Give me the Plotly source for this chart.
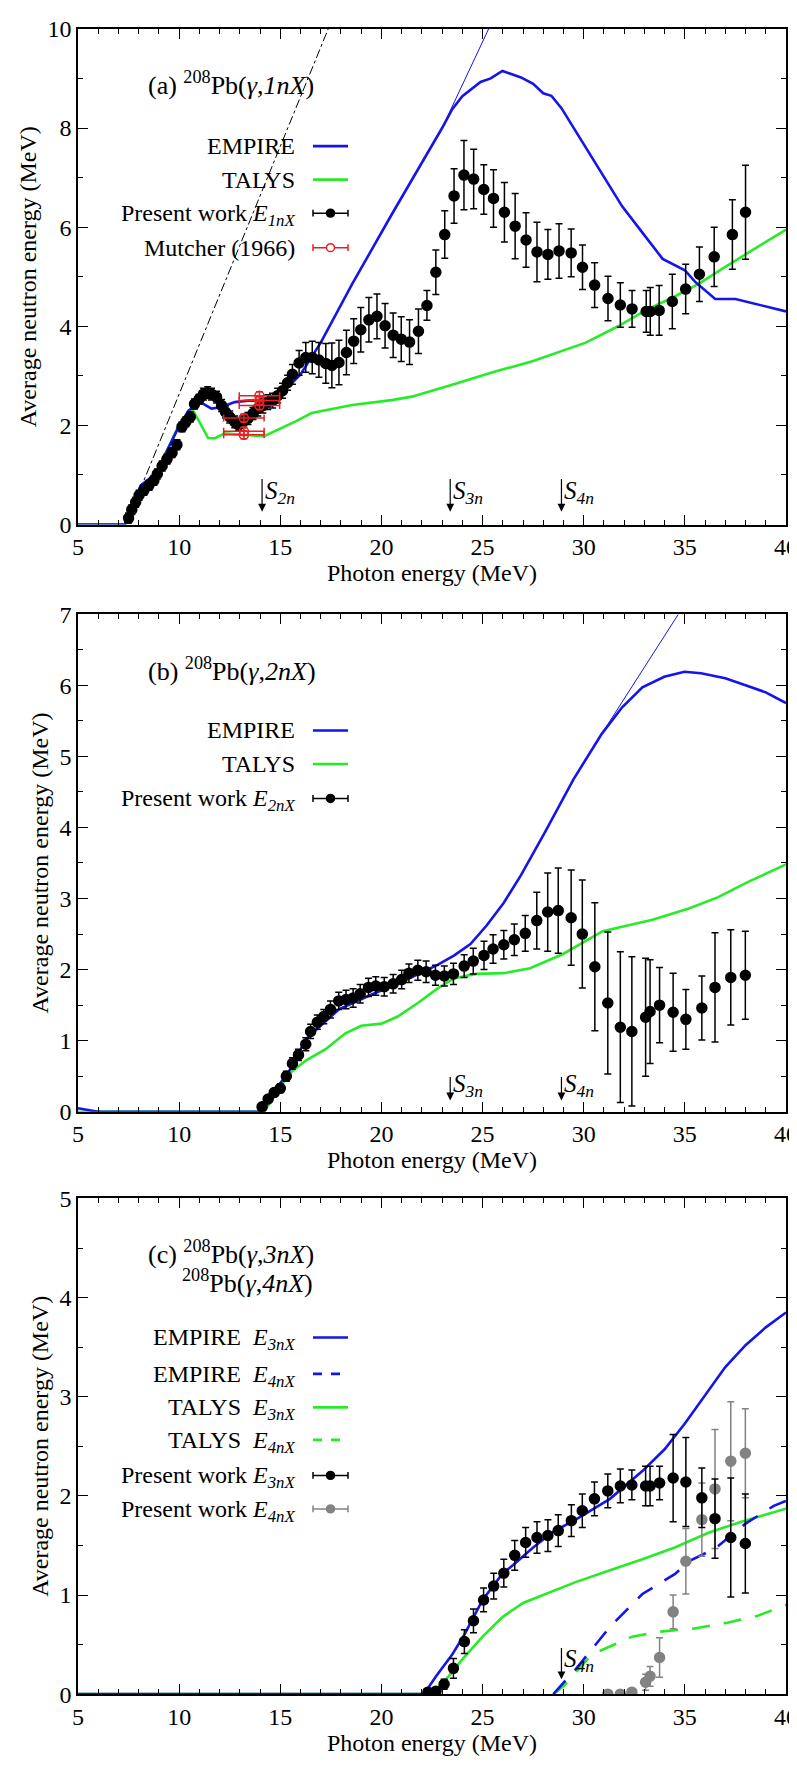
import plotly.graph_objects as go

# ---------------- Panel (a) data ----------------
a_E = [7.50,7.66,7.85,8.02,8.26,8.51,8.75,8.92,9.16,9.40,9.65,9.89,10.14,10.33,10.55,10.76,10.99,11.2,11.41,11.6,11.85,12.1,12.29,12.5,12.75,12.94,13.16,13.4,13.65,13.89,14.14,14.38,14.62,14.87,15.11,15.36,15.6,15.93,16.26,16.58,16.91,
       17.25,17.55,17.9,18.27,18.63,18.98,19.38,19.78,20.18,20.58,20.98,21.39,21.83,22.25,22.69,23.13,23.59,24.08,24.56,25.06,25.54,26.08,26.61,27.15,27.69,28.23,28.78,29.38,29.94,30.54,31.2,31.81,32.39,33.09,33.29,33.73,34.38,35.04,35.72,36.45,37.35,38.0]
a_V = [0.13,0.30,0.45,0.59,0.69,0.79,0.89,1.02,1.18,1.32,1.45,1.61,1.97,2.07,2.17,2.43,2.53,2.63,2.66,2.63,2.57,2.40,2.27,2.17,2.07,2.01,2.07,2.14,2.24,2.34,2.40,2.47,2.50,2.60,2.70,2.86,3.03,3.26,3.37,3.37,3.32,
       3.25,3.21,3.27,3.47,3.70,3.93,4.13,4.20,4.01,3.82,3.74,3.68,3.90,4.42,5.09,5.85,6.63,7.05,6.97,6.76,6.58,6.30,6.02,5.74,5.50,5.45,5.52,5.48,5.19,4.83,4.56,4.43,4.35,4.30,4.30,4.32,4.50,4.75,5.05,5.40,5.85,6.30]
a_err = [0.1]*17 + [0.12]*12 + [0.15]*7 + [0.2,0.25,0.3,0.33,0.35,
         0.4,0.45,0.45,0.45,0.45,0.45,0.45,0.45,0.45,0.45,0.45,0.45,0.45,0.3,0.45,0.48,0.55,0.7,0.6,0.5,0.58,0.6,0.66,0.55,0.6,0.5,0.55,0.48,0.45,0.45,0.45,0.45,0.37,0.42,0.48,0.5,0.55,0.5,0.55,0.6,0.7,0.95]

mut_E = [13.97,13.97,13.97,13.2,13.2,13.2]
mut_V = [2.60,2.50,2.40,2.15,1.88,1.81]
mut_xerr = [1.0,1.0,1.0,1.0,1.0,1.0]
mut_yerr = [0.08,0.08,0.08,0.08,0.08,0.08]

a_emp_E = [5,7.3,8.1,8.83,9.98,10.46,11.04,11.6,12.1,12.75,13.4,14.38,15.03,16.0,17.0,18.55,20.5,22.0,23.0,23.5,24.0,24.9,25.4,25.98,26.9,27.5,28.0,28.4,28.9,29.9,30.9,31.9,32.9,33.9,35.0,35.5,36.5,37.5,40]
a_emp_V = [0,0,0.79,1.02,1.97,2.30,2.47,2.34,2.37,2.47,2.50,2.50,2.63,3.03,3.67,4.85,6.25,7.3,8.0,8.38,8.64,8.93,9.0,9.15,9.02,8.89,8.70,8.65,8.40,7.74,7.08,6.42,5.89,5.36,5.13,4.9,4.55,4.55,4.3]
a_thin_E = [23.0,25.3]
a_thin_V = [8.0,10.0]
a_tal_E = [5,7.37,8.1,8.83,9.98,10.63,11.04,11.44,11.77,12.26,14.2,15.03,15.76,16.55,18.55,20.5,21.5,23.5,25.5,27.5,28.5,30.1,31.7,33.1,34.5,35.7,37,38,40]
a_tal_V = [0,0,0.72,1.0,2.0,2.34,2.04,1.74,1.74,1.84,1.78,1.94,2.08,2.25,2.41,2.51,2.58,2.82,3.07,3.30,3.44,3.67,4.0,4.33,4.6,4.86,5.2,5.45,5.95]
a_kin_E = [7.37,17.37]
a_kin_V = [0,10]

# ---------------- Panel (b) data ----------------
b_E = [14.1,14.4,14.7,15.0,15.3,15.6,15.9,16.26,16.5,16.83,17.15,17.48,17.89,18.25,18.6,18.95,19.36,19.72,20.14,20.58,21.0,21.36,21.8,22.21,22.67,23.11,23.56,24.09,24.54,25.07,25.52,26.05,26.57,27.11,27.68,28.22,28.74,29.38,29.93,30.55,31.19,31.81,32.38,33.06,33.28,33.75,34.42,35.05,35.84,36.49,37.27,37.99]
b_V = [0.07,0.18,0.27,0.33,0.5,0.68,0.8,0.95,1.13,1.26,1.34,1.44,1.56,1.58,1.60,1.66,1.75,1.77,1.76,1.80,1.86,1.95,1.99,1.97,1.92,1.91,1.94,2.05,2.12,2.20,2.29,2.35,2.42,2.51,2.69,2.81,2.83,2.73,2.50,2.04,1.53,1.19,1.13,1.33,1.41,1.50,1.40,1.30,1.46,1.75,1.89,1.92]
b_err = [0.03,0.04,0.05,0.06,0.07,0.08,0.08,0.09,0.1,0.1,0.1,0.12,0.12,0.13,0.13,0.13,0.13,0.13,0.13,0.13,0.13,0.13,0.14,0.15,0.14,0.14,0.15,0.16,0.18,0.2,0.2,0.2,0.22,0.25,0.4,0.55,0.6,0.67,0.76,0.9,1.0,1.06,1.05,0.83,0.73,0.53,0.55,0.42,0.45,0.77,0.67,0.62]
b_emp_E = [5,6,14.1,15.0,15.5,16.26,17.89,19.52,21.1,22.8,23.6,24.4,25.2,26.05,26.9,28.1,29.5,30.9,31.9,32.9,33.98,34.98,35.8,37,38,39,40]
b_emp_V = [0.05,0,0,0.4,0.6,1.02,1.44,1.65,1.84,2.07,2.2,2.36,2.62,2.94,3.33,3.94,4.68,5.32,5.69,5.97,6.12,6.19,6.17,6.1,6.0,5.9,5.75]
b_thin_E = [30.9,34.68]
b_thin_V = [5.32,7.0]
b_tal_E = [5,14.2,15.0,15.5,16.26,17.24,18.2,19.0,20.0,20.8,21.8,22.8,23.6,24.7,26.05,27.35,28.98,30.94,33.4,35.2,36.65,38.1,40]
b_tal_V = [0,0,0.35,0.55,0.72,0.88,1.1,1.21,1.24,1.34,1.53,1.74,1.88,1.94,1.95,2.02,2.22,2.54,2.70,2.86,3.02,3.23,3.48]

# ---------------- Panel (c) data ----------------
c3_E = [22.3,22.7,23.1,23.56,24.1,24.55,25.05,25.55,26.05,26.59,27.13,27.69,28.23,28.74,29.39,29.93,30.53,31.19,31.81,32.38,33.06,33.28,33.75,34.42,35.05,35.84,36.49,37.27,37.99]
c3_V = [0.02,0.03,0.1,0.26,0.53,0.74,0.95,1.09,1.22,1.40,1.53,1.58,1.60,1.65,1.75,1.85,1.97,2.05,2.10,2.11,2.10,2.10,2.13,2.18,2.14,1.98,1.77,1.58,1.52]
c3_err = [0.02,0.03,0.05,0.1,0.12,0.12,0.12,0.13,0.14,0.15,0.15,0.16,0.16,0.16,0.16,0.17,0.17,0.17,0.17,0.15,0.2,0.2,0.17,0.44,0.45,0.3,0.4,0.6,0.5]
c4_E = [31.19,31.81,32.38,33.06,33.28,33.75,34.42,35.05,35.84,36.49,37.27,37.99]
c4_V = [0.0,0.0,0.02,0.12,0.18,0.37,0.83,1.34,1.76,2.07,2.35,2.43]
c4_err = [0.02,0.02,0.03,0.08,0.1,0.2,0.17,0.33,0.37,0.6,0.6,0.45]
c_emp3_E = [5,22.1,22.7,23.5,24.1,25.0,26.0,26.5,27.5,28.5,29.6,31.3,32.9,34.0,35,36,37,38,39,40]
c_emp3_V = [0,0,0.18,0.4,0.6,0.95,1.22,1.3,1.48,1.64,1.76,1.97,2.25,2.47,2.73,3.02,3.3,3.52,3.7,3.85]
c_emp4_E = [28.5,29.6,31.3,32.9,34.5,35.2,36.5,38.0,39.4,40]
c_emp4_V = [0,0.25,0.68,1.01,1.21,1.34,1.47,1.72,1.9,1.95]
c_tal3_E = [5,22.3,23.0,24.0,25.0,26.0,27.0,28.0,29.6,31.3,32.9,34.5,36.2,37.8,40]
c_tal3_V = [0,0,0.1,0.35,0.58,0.78,0.92,1.0,1.13,1.25,1.36,1.48,1.63,1.74,1.87]
c_tal4_E = [28.5,29.0,30.4,31.3,32.4,33.75,35.4,37.1,38.6,40]
c_tal4_V = [0,0.08,0.4,0.48,0.58,0.63,0.66,0.72,0.79,0.9]

S_n = {"S2n": 14.1, "S3n": 23.4, "S4n": 28.9}

BLUE = "rgb(20,20,235)"
GREEN = "rgb(40,235,40)"
RED = "rgb(235,30,30)"
GRAY = "rgb(130,130,130)"
FONT = "Liberation Serif"

W, H = 797, 1775
L, R = 70, 778
def px(tx): return (tx - L) / (R - L)
def py(ty): return 1 - ty / H

panels = [
    (8, 511, 10, 2, 1),
    (602, 1107, 7, 1, 0.5),
    (1195, 1698, 5, 1, 0.5),
]

fig = go.Figure()

def line(x, y, color, i, width=2.6, dash="solid"):
    fig.add_trace(go.Scatter(x=x, y=y, mode="lines", line=dict(color=color, width=width, dash=dash),
                             xaxis=f"x{i}" if i > 1 else "x", yaxis=f"y{i}" if i > 1 else "y", showlegend=False))

def pts(x, y, err, color, i, xerr=None, symbol="circle", size=10):
    fig.add_trace(go.Scatter(x=x, y=y, mode="markers",
                             marker=dict(color=color, size=size, symbol=symbol, line=dict(color=color, width=1.5)),
                             error_y=dict(type="data", array=err, color=color, thickness=1.5, width=3.5),
                             error_x=(dict(type="data", array=xerr, color=color, thickness=1.5, width=3.5) if xerr else None),
                             xaxis=f"x{i}" if i > 1 else "x", yaxis=f"y{i}" if i > 1 else "y", showlegend=False))

line(a_kin_E, a_kin_V, "black", 1, width=1, dash="dashdot")
line(a_thin_E, a_thin_V, BLUE, 1, width=1)
line(a_tal_E, a_tal_V, GREEN, 1)
line(a_emp_E, a_emp_V, BLUE, 1)
pts(a_E, a_V, a_err, "black", 1)
pts(mut_E, mut_V, mut_yerr, RED, 1, xerr=mut_xerr, symbol="circle-open", size=9)
line(b_thin_E, b_thin_V, BLUE, 2, width=1)
line(b_tal_E, b_tal_V, GREEN, 2)
line(b_emp_E, b_emp_V, BLUE, 2)
pts(b_E, b_V, b_err, "black", 2)
line(c_tal3_E, c_tal3_V, GREEN, 3)
line(c_tal4_E, c_tal4_V, GREEN, 3, dash="18px,14px")
line(c_emp3_E, c_emp3_V, BLUE, 3)
line(c_emp4_E, c_emp4_V, BLUE, 3, dash="18px,14px")
pts(c4_E, c4_V, c4_err, GRAY, 3)
pts(c3_E, c3_V, c3_err, "black", 3)

tickfont = dict(family=FONT, size=24, color="black")
layout = dict(width=W, height=H, margin=dict(l=L, r=W - R, t=0, b=0),
              plot_bgcolor="white", paper_bgcolor="white", showlegend=False,
              font=dict(family=FONT, size=22, color="black"))
for k, (t, b, ymax, dt, mn) in enumerate(panels, start=1):
    sx = "" if k == 1 else str(k)
    layout[f"xaxis{sx}"] = dict(domain=[0, 1], anchor=f"y{sx}", range=[5, 40], dtick=5, tick0=5,
                                ticks="inside", ticklen=10, tickcolor="black", mirror="allticks",
                                showline=True, linecolor="black", linewidth=1.5, showgrid=False, zeroline=False,
                                minor=dict(dtick=1, ticks="inside", ticklen=5, tickcolor="black"),
                                tickfont=tickfont, title=dict(text="Photon energy (MeV)", font=tickfont, standoff=4))
    layout[f"yaxis{sx}"] = dict(domain=[py(b), py(t)], anchor=f"x{sx}", range=[0, ymax], dtick=dt, tick0=0,
                                ticks="inside", ticklen=10, tickcolor="black", mirror="allticks",
                                showline=True, linecolor="black", linewidth=1.5, showgrid=False, zeroline=False,
                                minor=dict(dtick=mn, ticks="inside", ticklen=5, tickcolor="black"),
                                tickfont=tickfont, title=dict(text="Average neutron energy (MeV)", font=tickfont, standoff=4))
fig.update_layout(**layout)

ann = []
shapes = []
def text(tx, ty, s, anchor="left", size=24):
    ann.append(dict(x=px(tx), y=py(ty), xref="paper", yref="paper", text=s, showarrow=False,
                    xanchor=anchor, yanchor="middle", font=dict(family=FONT, size=size, color="black")))

def sample_line(ty, color, dash="solid"):
    shapes.append(dict(type="line", xref="paper", yref="paper", x0=px(305), x1=px(340), y0=py(ty), y1=py(ty),
                       line=dict(color=color, width=2.6, dash=dash)))

def sample_err(ty, color, open_=False):
    shapes.append(dict(type="line", xref="paper", yref="paper", x0=px(305), x1=px(340), y0=py(ty), y1=py(ty), line=dict(color=color, width=1.5)))
    for xx in (305, 340):
        shapes.append(dict(type="line", xref="paper", yref="paper", x0=px(xx), x1=px(xx), y0=py(ty - 3.5), y1=py(ty + 3.5), line=dict(color=color, width=1.5)))
    shapes.append(dict(type="circle", xref="paper", yref="paper", x0=px(318.5), x1=px(326.5), y0=py(ty + 4), y1=py(ty - 4),
                       line=dict(color=color, width=1.5), fillcolor=("white" if open_ else color)))

text(138, 63, "(a) <sup>208</sup>Pb(<i>γ</i>,<i>1nX</i>)", size=26)
text(289, 127, "EMPIRE", "right"); sample_line(127, BLUE)
text(289, 161, "TALYS", "right"); sample_line(161, GREEN)
text(289, 197, "Present work <i>E</i><sub><i>1nX</i></sub>", "right"); sample_err(195, "black")
text(289, 230, "Mutcher (1966)", "right"); sample_err(230, RED, open_=True)
text(138, 658, "(b) <sup>208</sup>Pb(<i>γ</i>,<i>2nX</i>)", size=26)
text(289, 720, "EMPIRE", "right"); sample_line(720, BLUE)
text(289, 754, "TALYS", "right"); sample_line(754, GREEN)
text(289, 791, "Present work <i>E</i><sub><i>2nX</i></sub>", "right"); sample_err(789, "black")
text(138, 1250, "(c) <sup>208</sup>Pb(<i>γ</i>,<i>3nX</i>)", size=26)
text(172, 1279, "<sup>208</sup>Pb(<i>γ</i>,<i>4nX</i>)", size=26)
rows = [(1336, "EMPIRE  <i>E</i><sub><i>3nX</i></sub>", "l", BLUE, "solid"),
        (1373, "EMPIRE  <i>E</i><sub><i>4nX</i></sub>", "l", BLUE, "dash"),
        (1407, "TALYS  <i>E</i><sub><i>3nX</i></sub>", "l", GREEN, "solid"),
        (1440, "TALYS  <i>E</i><sub><i>4nX</i></sub>", "l", GREEN, "dash"),
        (1476, "Present work <i>E</i><sub><i>3nX</i></sub>", "e", "black", None),
        (1510, "Present work <i>E</i><sub><i>4nX</i></sub>", "e", GRAY, None)]
for ty, s, kind, col, d in rows:
    text(289, ty + 2, s, "right")
    if kind == "l":
        sample_line(ty, col, d)
    else:
        sample_err(ty, col)

arrow_specs = [(1, "S2n", 0.95, 0.26, 10), (1, "S3n", 0.95, 0.26, 10), (1, "S4n", 0.95, 0.26, 10),
               (2, "S3n", 0.51, 0.16, 7), (2, "S4n", 0.51, 0.16, 7),
               (3, "S4n", 0.48, 0.15, 5)]
for i, key, ytop, ybot, ymax in arrow_specs:
    sx = "" if i == 1 else str(i)
    E = S_n[key]
    ann.append(dict(x=E, y=ybot, xref=f"x{sx}", yref=f"y{sx}", ax=E, ay=ytop, axref=f"x{sx}", ayref=f"y{sx}",
                    showarrow=True, arrowhead=2, arrowsize=1.3, arrowwidth=1.2, arrowcolor="black", text=""))
    sub = key[1:]
    ann.append(dict(x=E, y=(ytop + ybot) / 2 + 0.04 * ymax / 10, xref=f"x{sx}", yref=f"y{sx}",
                    text=f"<i>S</i><sub><i>{sub}</i></sub>", showarrow=False, xanchor="left", yanchor="middle",
                    xshift=1, font=dict(family=FONT, size=25, color="black")))

fig.update_layout(annotations=ann, shapes=shapes)
fig.write_html("out.html")
